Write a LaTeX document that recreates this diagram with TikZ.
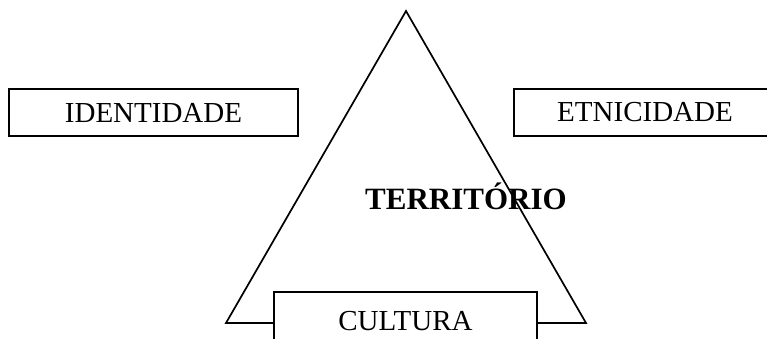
\documentclass[tikz,border=0pt]{standalone}
\usepackage{fontspec}
\setmainfont{Liberation Serif}
\begin{document}
\begin{tikzpicture}[x=1pt,y=-1pt,
  boxnode/.style={draw,line width=1.9pt,inner sep=0pt,font=\fontsize{29}{33}\selectfont,minimum height=47pt},
  edge/.style={line width=1.7pt,line join=miter}]
\clip (0,0) rectangle (767,338);
\fill[white] (0,0) rectangle (767,338);
\coordinate (apex) at (406,11);
\coordinate (bl) at (226,323);
\coordinate (br) at (586,323);
\draw[edge] (bl) -- (apex) -- (br) -- cycle;
\node[boxnode,minimum width=289pt] (ident) at (153.5,112.5) {IDENTIDADE};
\node[boxnode,minimum width=262pt] (etnic) at (645,112.5) {ETNICIDADE};
\node[boxnode,fill=white,minimum width=263pt,minimum height=59pt] (cult) at (405.5,321.5) {CULTURA};
\node[font=\fontsize{31}{35}\selectfont\bfseries,inner sep=0pt] (terr) at (466,196) {TERRITÓRIO};
\end{tikzpicture}
\end{document}
